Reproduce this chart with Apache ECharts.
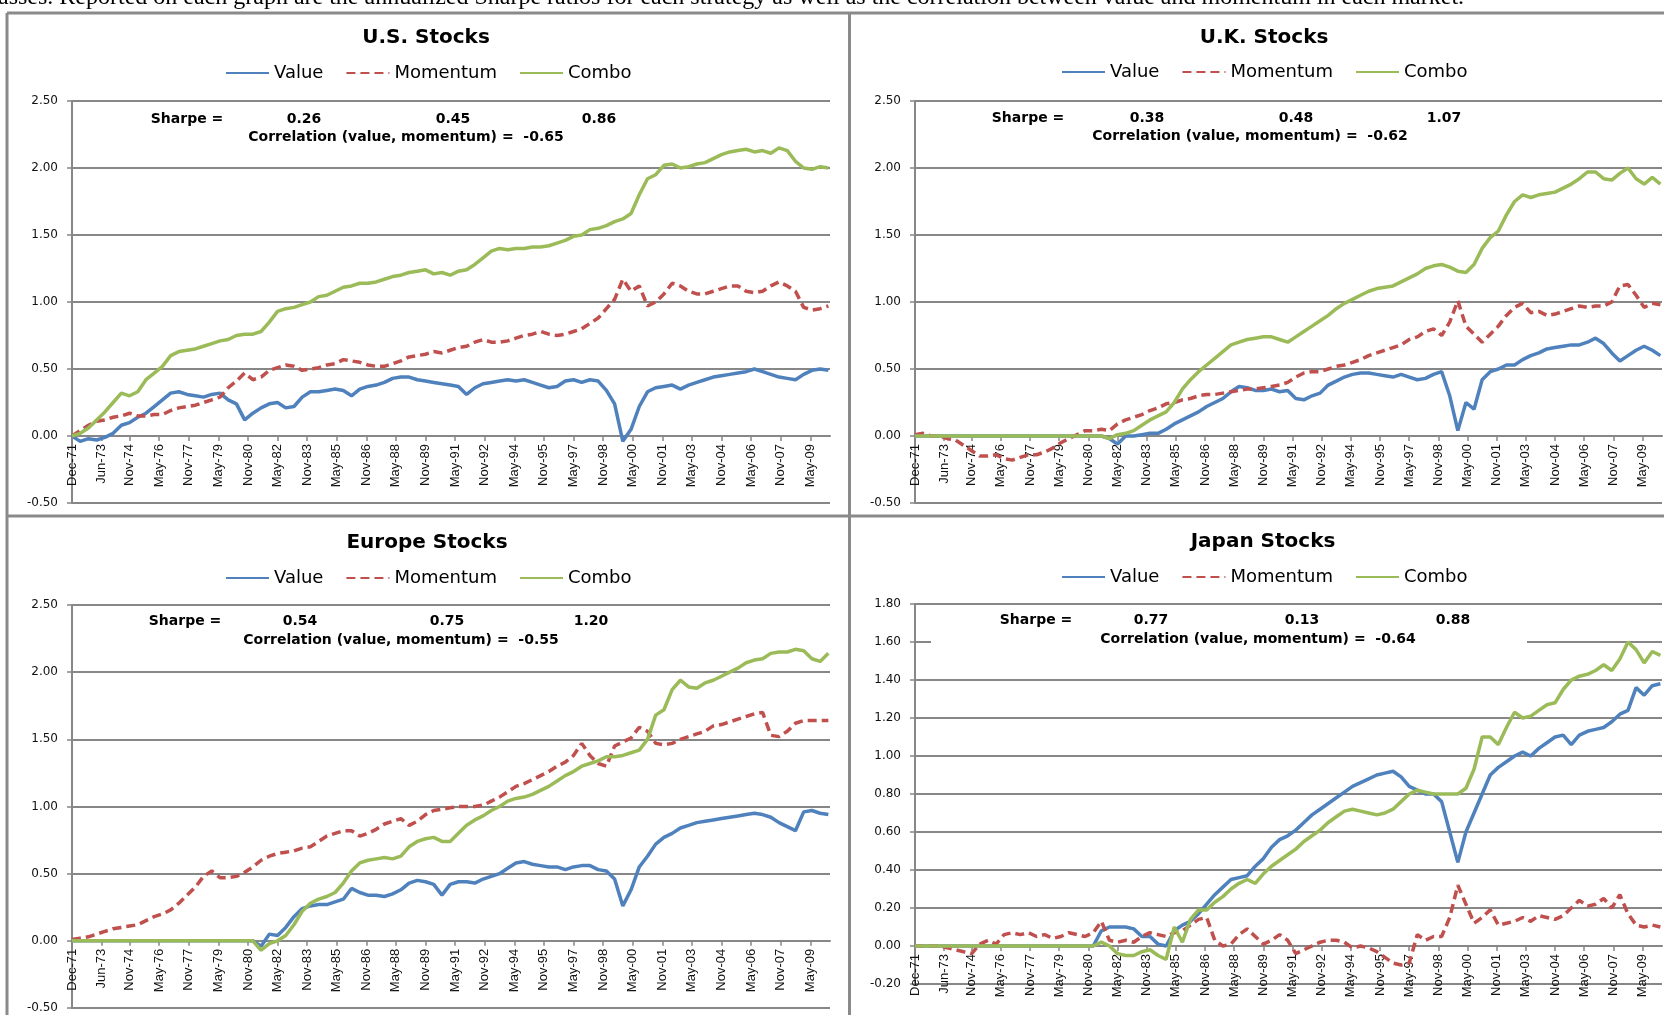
<!DOCTYPE html>
<html lang="en">
<head>
	<meta charset="UTF-8">
	<title>Value, Momentum and Combo by market</title>
	<script src="https://cdn.jsdelivr.net/npm/echarts@6/dist/echarts.min.js"></script>
	<style>
		html, body { margin: 0; padding: 0; background: #fff; }
		#main { width: 1664px; height: 1015px; }
	</style>
</head>
<body>
<div id="main"></div>
<script>
	// one reading every STEP months, starting Dec-71
	const STEP = 5;
	const tickLabels = ['Dec-71','Jun-73','Nov-74','May-76','Nov-77','May-79','Nov-80','May-82','Nov-83','May-85',
		'Nov-86','May-88','Nov-89','May-91','Nov-92','May-94','Nov-95','May-97','Nov-98','May-00',
		'Nov-01','May-03','Nov-04','May-06','Nov-07','May-09'];
	const seriesNames = ['Value', 'Momentum', 'Combo'];

	const usValue = [
		0.00,-0.04,-0.02,-0.03,-0.01,0.02,0.08,0.10,0.14,0.17,
		0.22,0.27,0.32,0.33,0.31,0.30,0.29,0.31,0.32,0.27,
		0.24,0.12,0.17,0.21,0.24,0.25,0.21,0.22,0.29,0.33,
		0.33,0.34,0.35,0.34,0.30,0.35,0.37,0.38,0.40,0.43,
		0.44,0.44,0.42,0.41,0.40,0.39,0.38,0.37,0.31,0.36,
		0.39,0.40,0.41,0.42,0.41,0.42,0.40,0.38,0.36,0.37,
		0.41,0.42,0.40,0.42,0.41,0.34,0.24,-0.04,0.05,0.22,
		0.33,0.36,0.37,0.38,0.35,0.38,0.40,0.42,0.44,0.45,
		0.46,0.47,0.48,0.50,0.48,0.46,0.44,0.43,0.42,0.46,
		0.49,0.50,0.49];
	const usMomentum = [
		0.00,0.04,0.08,0.11,0.12,0.14,0.15,0.17,0.15,0.15,
		0.16,0.16,0.19,0.21,0.22,0.23,0.25,0.27,0.29,0.36,
		0.41,0.47,0.42,0.44,0.49,0.51,0.53,0.52,0.49,0.50,
		0.51,0.53,0.54,0.57,0.56,0.55,0.53,0.52,0.52,0.54,
		0.56,0.59,0.60,0.61,0.63,0.62,0.64,0.66,0.67,0.70,
		0.72,0.70,0.70,0.71,0.73,0.75,0.76,0.78,0.76,0.75,
		0.76,0.78,0.80,0.84,0.88,0.95,1.02,1.17,1.08,1.12,
		0.97,1.00,1.06,1.14,1.12,1.08,1.06,1.06,1.08,1.10,
		1.12,1.12,1.08,1.07,1.08,1.12,1.15,1.12,1.08,0.96,
		0.94,0.95,0.97];
	const usCombo = [
		0.00,0.02,0.06,0.12,0.18,0.25,0.32,0.30,0.33,0.42,
		0.47,0.52,0.60,0.63,0.64,0.65,0.67,0.69,0.71,0.72,
		0.75,0.76,0.76,0.78,0.85,0.93,0.95,0.96,0.98,1.00,
		1.04,1.05,1.08,1.11,1.12,1.14,1.14,1.15,1.17,1.19,
		1.20,1.22,1.23,1.24,1.21,1.22,1.20,1.23,1.24,1.28,
		1.33,1.38,1.40,1.39,1.40,1.40,1.41,1.41,1.42,1.44,
		1.46,1.49,1.50,1.54,1.55,1.57,1.60,1.62,1.66,1.80,
		1.92,1.95,2.02,2.03,2.00,2.01,2.03,2.04,2.07,2.10,
		2.12,2.13,2.14,2.12,2.13,2.11,2.15,2.13,2.05,2.00,
		1.99,2.01,2.00];

	const ukValue = [
		0,0,0,0,0,0,0,0,0,0,
		0,0,0,0,0,0,0,0,0,0,
		0.00,0.00,0.00,0.00,-0.02,-0.06,0.00,0.00,0.01,0.02,
		0.02,0.05,0.09,0.12,0.15,0.18,0.22,0.25,0.28,0.33,
		0.37,0.36,0.34,0.34,0.35,0.33,0.34,0.28,0.27,0.30,
		0.32,0.38,0.41,0.44,0.46,0.47,0.47,0.46,0.45,0.44,
		0.46,0.44,0.42,0.43,0.46,0.48,0.30,0.04,0.25,0.20,
		0.42,0.48,0.50,0.53,0.53,0.57,0.60,0.62,0.65,0.66,
		0.67,0.68,0.68,0.70,0.73,0.69,0.62,0.56,0.60,0.64,
		0.67,0.64,0.60];
	const ukMomentum = [
		0.01,0.02,0.00,0.00,-0.02,-0.03,-0.07,-0.11,-0.15,-0.15,
		-0.14,-0.17,-0.18,-0.16,-0.14,-0.14,-0.12,-0.09,-0.05,-0.02,
		0.01,0.04,0.04,0.05,0.04,0.09,0.12,0.14,0.16,0.19,
		0.21,0.24,0.25,0.27,0.28,0.30,0.31,0.31,0.32,0.33,
		0.34,0.35,0.35,0.36,0.37,0.38,0.40,0.44,0.47,0.48,
		0.48,0.50,0.52,0.53,0.55,0.57,0.60,0.62,0.64,0.66,
		0.68,0.72,0.74,0.78,0.80,0.75,0.85,1.01,0.82,0.76,
		0.70,0.76,0.82,0.90,0.96,0.99,0.92,0.93,0.90,0.91,
		0.93,0.95,0.97,0.96,0.97,0.97,1.00,1.12,1.13,1.05,
		0.96,0.99,0.98];
	const ukCombo = [
		0,0,0,0,0,0,0,0,0,0,
		0,0,0,0,0,0,0,0,0,0,
		0.00,0.00,0.00,0.00,-0.02,0.01,0.02,0.04,0.08,0.12,
		0.15,0.18,0.25,0.35,0.42,0.48,0.53,0.58,0.63,0.68,
		0.70,0.72,0.73,0.74,0.74,0.72,0.70,0.74,0.78,0.82,
		0.86,0.90,0.95,0.99,1.02,1.05,1.08,1.10,1.11,1.12,
		1.15,1.18,1.21,1.25,1.27,1.28,1.26,1.23,1.22,1.28,
		1.40,1.48,1.53,1.65,1.75,1.80,1.78,1.80,1.81,1.82,
		1.85,1.88,1.92,1.97,1.97,1.92,1.91,1.96,2.00,1.92,
		1.88,1.93,1.88];

	const euValue = [
		0,0,0,0,0,0,0,0,0,0,
		0,0,0,0,0,0,0,0,0,0,
		0.00,0.00,0.00,-0.04,0.05,0.04,0.10,0.18,0.24,0.26,
		0.27,0.27,0.29,0.31,0.39,0.36,0.34,0.34,0.33,0.35,
		0.38,0.43,0.45,0.44,0.42,0.34,0.42,0.44,0.44,0.43,
		0.46,0.48,0.50,0.54,0.58,0.59,0.57,0.56,0.55,0.55,
		0.53,0.55,0.56,0.56,0.53,0.52,0.46,0.26,0.38,0.55,
		0.63,0.72,0.77,0.80,0.84,0.86,0.88,0.89,0.90,0.91,
		0.92,0.93,0.94,0.95,0.94,0.92,0.88,0.85,0.82,0.96,
		0.97,0.95,0.94];
	const euMomentum = [
		0.01,0.02,0.03,0.05,0.07,0.09,0.10,0.11,0.12,0.15,
		0.18,0.20,0.23,0.28,0.34,0.40,0.48,0.52,0.47,0.47,
		0.48,0.51,0.55,0.60,0.63,0.65,0.66,0.67,0.69,0.70,
		0.74,0.78,0.80,0.82,0.82,0.78,0.80,0.83,0.87,0.89,
		0.91,0.86,0.89,0.94,0.97,0.98,0.99,1.00,1.00,1.00,
		1.01,1.04,1.07,1.11,1.15,1.17,1.20,1.23,1.26,1.30,
		1.33,1.38,1.47,1.38,1.32,1.30,1.45,1.48,1.51,1.59,
		1.56,1.47,1.46,1.47,1.50,1.52,1.54,1.56,1.60,1.61,
		1.63,1.65,1.67,1.69,1.70,1.53,1.52,1.56,1.62,1.64,
		1.64,1.64,1.64];
	const euCombo = [
		0,0,0,0,0,0,0,0,0,0,
		0,0,0,0,0,0,0,0,0,0,
		0.00,0.00,0.00,-0.07,-0.02,0.00,0.04,0.12,0.22,0.28,
		0.31,0.33,0.36,0.43,0.52,0.58,0.60,0.61,0.62,0.61,
		0.63,0.70,0.74,0.76,0.77,0.74,0.74,0.80,0.86,0.90,
		0.93,0.97,1.00,1.04,1.06,1.07,1.09,1.12,1.15,1.19,
		1.23,1.26,1.30,1.32,1.34,1.37,1.37,1.38,1.40,1.42,
		1.50,1.68,1.72,1.87,1.94,1.89,1.88,1.92,1.94,1.97,
		2.00,2.03,2.07,2.09,2.10,2.14,2.15,2.15,2.17,2.16,
		2.10,2.08,2.14];

	const jpValue = [
		0,0,0,0,0,0,0,0,0,0,
		0,0,0,0,0,0,0,0,0,0,
		0.00,0.00,0.00,0.08,0.10,0.10,0.10,0.09,0.05,0.05,
		0.01,0.00,0.08,0.11,0.13,0.17,0.22,0.27,0.31,0.35,
		0.36,0.37,0.42,0.46,0.52,0.56,0.58,0.61,0.65,0.69,
		0.72,0.75,0.78,0.81,0.84,0.86,0.88,0.90,0.91,0.92,
		0.89,0.84,0.82,0.80,0.80,0.76,0.60,0.44,0.60,0.70,
		0.80,0.90,0.94,0.97,1.00,1.02,1.00,1.04,1.07,1.10,
		1.11,1.06,1.11,1.13,1.14,1.15,1.18,1.22,1.24,1.36,
		1.32,1.37,1.38];
	const jpMomentum = [
		0.00,0.00,0.00,0.00,-0.01,-0.02,-0.03,-0.04,0.01,0.03,
		0.01,0.06,0.07,0.06,0.07,0.05,0.06,0.04,0.05,0.07,
		0.06,0.05,0.07,0.13,0.03,0.02,0.03,0.02,0.05,0.07,
		0.06,0.05,0.07,0.08,0.11,0.14,0.15,0.03,0.00,0.01,
		0.06,0.09,0.05,0.01,0.03,0.06,0.03,-0.04,-0.02,0.00,
		0.02,0.03,0.03,0.02,-0.01,0.00,-0.01,-0.03,-0.06,-0.09,
		-0.10,-0.09,0.06,0.03,0.05,0.05,0.15,0.32,0.22,0.12,
		0.15,0.19,0.11,0.12,0.13,0.15,0.13,0.16,0.15,0.14,
		0.16,0.20,0.24,0.21,0.22,0.25,0.20,0.27,0.17,0.11,
		0.10,0.11,0.10];
	const jpCombo = [
		0,0,0,0,0,0,0,0,0,0,
		0,0,0,0,0,0,0,0,0,0,
		0.00,0.00,0.00,0.02,0.00,-0.04,-0.05,-0.05,-0.03,-0.02,
		-0.05,-0.07,0.10,0.02,0.14,0.19,0.19,0.23,0.26,0.30,
		0.33,0.35,0.33,0.38,0.42,0.45,0.48,0.51,0.55,0.58,
		0.61,0.65,0.68,0.71,0.72,0.71,0.70,0.69,0.70,0.72,
		0.76,0.80,0.82,0.81,0.80,0.80,0.80,0.80,0.83,0.93,
		1.10,1.10,1.06,1.15,1.23,1.20,1.21,1.24,1.27,1.28,
		1.35,1.40,1.42,1.43,1.45,1.48,1.45,1.51,1.60,1.56,
		1.49,1.55,1.53];

	// annualized Sharpe ratios (value, momentum, combo) and value/momentum correlation
	const usSharpe = [0.26, 0.45, 0.86], usCorr = -0.65;
	const ukSharpe = [0.38, 0.48, 1.07], ukCorr = -0.62;
	const euSharpe = [0.54, 0.75, 1.20], euCorr = -0.55;
	const jpSharpe = [0.77, 0.13, 0.88], jpCorr = -0.64;

	const colors = ['#4F81BD', '#C0504D', '#9BBB59'];
	const GRAY = '#878787';

	const MONTHS = {Jan:1,Feb:2,Mar:3,Apr:4,May:5,Jun:6,Jul:7,Aug:8,Sep:9,Oct:10,Nov:11,Dec:12};
	function monthIndex(lbl) {
		const [m, yy] = lbl.split('-');
		const year = +yy < 50 ? 2000 + +yy : 1900 + +yy;
		return (year - 1971) * 12 + MONTHS[m] - 12;
	}
	const tickMonths = tickLabels.map(monthIndex);

	const panels = [
		{ title: 'U.S. Stocks', series: [usValue, usMomentum, usCombo], sharpe: usSharpe, corr: usCorr,
		  grid: { left: 72, top: 101, width: 758, height: 402 }, y: [-0.5, 2.5, 0.5],
		  titlePos: [426, 40], legendPos: [225, 75], sharpeX: [187, 304, 453, 599], sharpeY: 119, corrPos: [406, 137] },
		{ title: 'U.K. Stocks', series: [ukValue, ukMomentum, ukCombo], sharpe: ukSharpe, corr: ukCorr,
		  grid: { left: 915, top: 101, width: 747, height: 402 }, y: [-0.5, 2.5, 0.5],
		  titlePos: [1264, 40], legendPos: [1061, 74], sharpeX: [1028, 1147, 1296, 1444], sharpeY: 118, corrPos: [1250, 136] },
		{ title: 'Europe Stocks', series: [euValue, euMomentum, euCombo], sharpe: euSharpe, corr: euCorr,
		  grid: { left: 72, top: 605, width: 758, height: 403 }, y: [-0.5, 2.5, 0.5],
		  titlePos: [427, 545], legendPos: [225, 580], sharpeX: [185, 300, 447, 591], sharpeY: 621, corrPos: [401, 640] },
		{ title: 'Japan Stocks', series: [jpValue, jpMomentum, jpCombo], sharpe: jpSharpe, corr: jpCorr,
		  grid: { left: 915, top: 604, width: 747, height: 380 }, y: [-0.2, 1.8, 0.2],
		  titlePos: [1263, 544], legendPos: [1061, 579], sharpeX: [1036, 1151, 1302, 1453], sharpeY: 620, corrPos: [1258, 639] }
	];

	const option = {
		animation: false,
		backgroundColor: '#fff',
		title: [], legend: [], grid: [], xAxis: [], yAxis: [], series: [],
		graphic: { elements: [] }
	};
	const g = option.graphic.elements;

	function addText(x, y, text, extra) {
		g.push({
			type: 'text', x: x, y: y, z: 10,
			style: Object.assign({
				text: text, fill: '#000', fontFamily: 'DejaVu Sans', fontSize: 14, fontWeight: 'bold',
				align: 'center', verticalAlign: 'middle', textAlign: 'center', textVerticalAlign: 'middle'
			}, extra || {})
		});
	}

	panels.forEach((p, i) => {
		const [yMin, yMax, yStep] = p.y;
		option.title.push({
			text: p.title, left: p.titlePos[0], top: p.titlePos[1] - 12, textAlign: 'center', padding: 0,
			textStyle: { fontFamily: 'DejaVu Sans', fontWeight: 'bold', fontSize: 20, color: '#000' }
		});
		option.legend.push({
			data: seriesNames, left: p.legendPos[0], top: p.legendPos[1] - 11, padding: 0,
			itemWidth: 43, itemHeight: 14, itemGap: 22, selectedMode: false,
			itemStyle: { opacity: 0 },
			textStyle: { fontFamily: 'DejaVu Sans', fontSize: 18, color: '#000' }
		});
		option.grid.push(Object.assign({ containLabel: false, outerBoundsMode: 'none' }, p.grid));
		// x axis sits on the zero line: shift it up from the grid bottom
		const zeroOffset = -(0 - yMin) / (yMax - yMin) * p.grid.height;
		option.xAxis.push({
			gridIndex: i, type: 'value', min: 0, max: 461, offset: zeroOffset,
			axisLine: { onZero: false, lineStyle: { color: GRAY, width: 2 } },
			axisTick: { show: true, customValues: tickMonths, length: 5, lineStyle: { color: GRAY, width: 1.5 } },
			axisLabel: {
				customValues: tickMonths, rotate: 90, margin: 8,
				fontFamily: 'Liberation Sans', fontSize: 13, color: '#111',
				formatter: v => tickLabels[tickMonths.indexOf(v)] || ''
			},
			splitLine: { show: false }
		});
		option.yAxis.push({
			gridIndex: i, type: 'value', min: yMin, max: yMax, interval: yStep,
			axisLine: { show: true, onZero: false, lineStyle: { color: GRAY, width: 2 } },
			axisTick: { show: true, length: 5, lineStyle: { color: GRAY, width: 1.5 } },
			axisLabel: { margin: 14, fontFamily: 'DejaVu Sans', fontSize: 12, color: '#111', formatter: v => v.toFixed(2) },
			splitLine: { show: true, lineStyle: { color: GRAY, width: 2 } }
		});
		p.series.forEach((vals, j) => {
			option.series.push({
				name: seriesNames[j], type: 'line', xAxisIndex: i, yAxisIndex: i,
				symbol: 'none', showSymbol: false, silent: true,
				data: vals.map((v, k) => [k * STEP, v]),
				lineStyle: { color: colors[j], width: 3.5, type: j === 1 ? [9, 5] : 'solid' },
				itemStyle: { color: colors[j] },
				z: 2 + j
			});
		});
		// text box with the Sharpe ratios and correlation
		addText(p.sharpeX[0], p.sharpeY, 'Sharpe =');
		p.sharpe.forEach((s, j) => addText(p.sharpeX[j + 1], p.sharpeY, s.toFixed(2)));
		addText(p.corrPos[0], p.corrPos[1], 'Correlation (value, momentum) =  ' + p.corr.toFixed(2));
	});

	// the Japan text box hides part of the 1.60 gridline
	g.push({ type: 'rect', shape: { x: 931, y: 607, width: 596, height: 44 }, style: { fill: '#fff' }, z: 1 });

	// panel frames
	const frame = [[7, 13, 1664, 13], [7, 13, 7, 1015], [849.5, 13, 849.5, 1015], [7, 516, 1664, 516]];
	frame.forEach(f => g.push({
		type: 'line', shape: { x1: f[0], y1: f[1], x2: f[2], y2: f[3] },
		style: { stroke: '#8a8a8a', lineWidth: 3 }, z: 5
	}));

	// caption line cut off at the top of the page
	addText(-2, -2, 'asses. Reported on each graph are the annualized Sharpe ratios for each strategy as well as the correlation between value and momentum in each market.',
		{ fontFamily: 'Liberation Serif', fontSize: 24, fontWeight: 'normal', align: 'left', textAlign: 'left' });

	const chart = echarts.init(document.getElementById('main'));
	chart.setOption(option);
</script>
</body>
</html>
